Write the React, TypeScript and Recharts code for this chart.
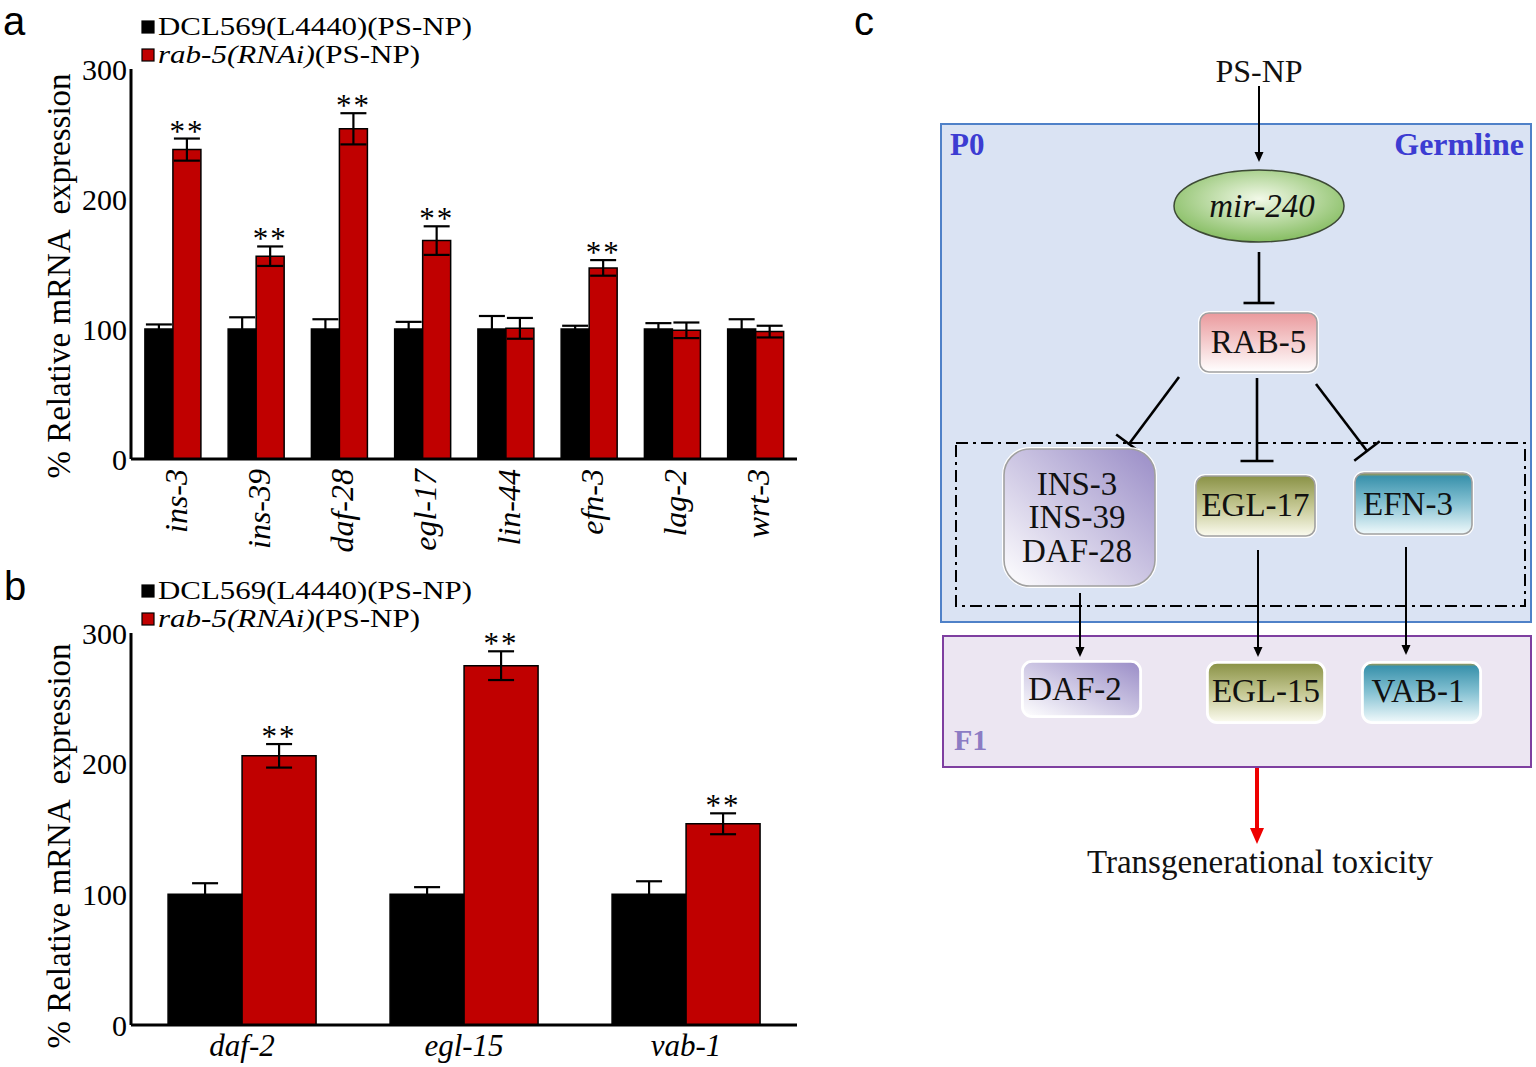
import React from 'react';
import { BarChart, Bar, XAxis, YAxis, ErrorBar, LabelList, Legend } from 'recharts';

const SERIF = '"Liberation Serif", "Times New Roman", Times, serif';
const SANS = '"Liberation Sans", Arial, Helvetica, sans-serif';
const RED = '#c00000';

// panel a
const genesA = ['ins-3', 'ins-39', 'daf-28', 'egl-17', 'lin-44', 'efn-3', 'lag-2', 'wrt-3'];
const ctrlA = [100, 100, 100, 100, 100, 100, 100, 100];
const ctrlErrA = [3.5, 9, 7.5, 5.5, 10, 2.5, 4.5, 7.5];
const rnaiA = [238, 156, 254, 168, 100.5, 147, 99, 98];
const rnaiErrA = [8.5, 7.5, 12, 11, 8, 6, 6, 4.5];
const sigA = [true, true, true, true, false, true, false, false];

// panel b
const genesB = ['daf-2', 'egl-15', 'vab-1'];
const ctrlB = [100, 100, 100];
const ctrlErrB = [8.5, 5.5, 10];
const rnaiB = [206, 275, 154];
const rnaiErrB = [9, 11, 8];
const sigB = [true, true, true];

const yTicks = [0, 100, 200, 300];
const seriesNames = ['DCL569(L4440)(PS-NP)', 'rab-5(RNAi)(PS-NP)'];
const legendItalic = ['', 'rab-5(RNAi)'];
const legendPlain = ['DCL569(L4440)(PS-NP)', '(PS-NP)'];
const legendWidths = [314, 262];
const yTitle = '% Relative mRNA  expression';

function makeRows(genes: string[], ctrl: number[], ctrlErr: number[], rnai: number[], rnaiErr: number[]) {
  return genes.map((gene, i) => ({
    gene,
    ctrl: ctrl[i],
    ctrlErr: ctrlErr[i],
    rnai: rnai[i],
    rnaiErr: rnaiErr[i],
  }));
}

const rowsA = makeRows(genesA, ctrlA, ctrlErrA, rnaiA, rnaiErrA);
const rowsB = makeRows(genesB, ctrlB, ctrlErrB, rnaiB, rnaiErrB);

function RotatedTick(props: any) {
  const { x, y, payload } = props;
  return (
    <text
      transform={`translate(${x + 14},${y + 10}) rotate(-90)`}
      textAnchor="end"
      fontFamily={SERIF}
      fontStyle="italic"
      fontSize={32}
      fill="#000"
    >
      {payload.value}
    </text>
  );
}

function FlatTick(props: any) {
  const { x, y, payload } = props;
  return (
    <text x={x} y={y + 31} textAnchor="middle" fontFamily={SERIF} fontStyle="italic" fontSize={31} fill="#000">
      {payload.value}
    </text>
  );
}

function YTick(props: any) {
  const { x, y, payload } = props;
  return (
    <text x={x} y={y} dy="0.35em" textAnchor="end" fontFamily={SERIF} fontSize={30} fill="#000">
      {payload.value}
    </text>
  );
}

function LegendBox(props: any) {
  const payload = props.payload || [];
  return (
    <svg width={480} height={72} style={{ display: 'block', overflow: 'visible' }}>
      {payload.map((p: any, i: number) => {
        const base = 35 + i * 28;
        return (
          <g key={i}>
            <rect x={142} y={base - 14} width={12} height={12} fill={p.color} stroke="#000" strokeWidth={1.2} />
            <text
              x={158}
              y={base}
              fontFamily={SERIF}
              fontSize={26}
              textLength={legendWidths[i]}
              lengthAdjust="spacingAndGlyphs"
              fill="#000"
            >
              {legendItalic[i] ? <tspan fontStyle="italic">{legendItalic[i]}</tspan> : null}
              <tspan>{legendPlain[i]}</tspan>
            </text>
          </g>
        );
      })}
    </svg>
  );
}

function makeStars(errs: number[], sig: boolean[]) {
  return (props: any) => {
    const vb = props.viewBox || {};
    const x = Number(props.x ?? vb.x);
    const y = Number(props.y ?? vb.y);
    const width = Number(props.width ?? vb.width);
    const height = Math.abs(Number(props.height ?? vb.height));
    const index = props.index;
    const value = Number(props.value);
    if (!sig[index] || !value) return null;
    const top = y - (errs[index] * height) / value;
    return (
      <text
        x={x + width / 2}
        y={top + 3}
        textAnchor="middle"
        fontFamily={SERIF}
        fontSize={31}
        letterSpacing={2}
        fill="#000"
      >
        **
      </text>
    );
  };
}

function ExprPanel({ rows, errs, sig, top, height, xAxisHeight, tick }: any) {
  return (
    <div style={{ position: 'absolute', left: 0, top, width: 820, height }}>
      <BarChart
        width={820}
        height={height}
        data={rows}
        margin={{ top: 69, right: 23, bottom: 6, left: 81 }}
        barCategoryGap="16.7%"
        barGap={0}
      >
        <XAxis
          dataKey="gene"
          interval={0}
          height={xAxisHeight}
          axisLine={{ stroke: '#000', strokeWidth: 3 }}
          tickLine={false}
          tickSize={0}
          tickMargin={0}
          tick={tick}
        />
        <YAxis
          domain={[0, 300]}
          ticks={yTicks}
          width={50}
          axisLine={{ stroke: '#000', strokeWidth: 3 }}
          tickLine={false}
          tickSize={4}
          tickMargin={0}
          tick={<YTick />}
        />
        <Legend
          layout="vertical"
          align="center"
          verticalAlign="middle"
          content={<LegendBox />}
          wrapperStyle={{ position: 'absolute', top: 0, left: 0, width: 480, height: 72 }}
        />
        <Bar dataKey="ctrl" name={seriesNames[0]} fill="#000" stroke="#000" strokeWidth={1.5} isAnimationActive={false}>
          <ErrorBar dataKey="ctrlErr" width={13} strokeWidth={2.2} stroke="#000" />
        </Bar>
        <Bar dataKey="rnai" name={seriesNames[1]} fill={RED} stroke="#000" strokeWidth={1.5} isAnimationActive={false}>
          <ErrorBar dataKey="rnaiErr" width={13} strokeWidth={2.2} stroke="#000" />
          <LabelList dataKey="rnai" content={makeStars(errs, sig)} />
        </Bar>
      </BarChart>
    </div>
  );
}

function Arrow({ x1, y1, x2, y2, color = '#000', w = 2, head = 10, half = 4.5 }: any) {
  const ang = Math.atan2(y2 - y1, x2 - x1);
  const bx = x2 - head * Math.cos(ang);
  const by = y2 - head * Math.sin(ang);
  const px = Math.sin(ang) * half;
  const py = -Math.cos(ang) * half;
  return (
    <g>
      <line x1={x1} y1={y1} x2={bx} y2={by} stroke={color} strokeWidth={w} />
      <polygon points={`${x2},${y2} ${bx + px},${by + py} ${bx - px},${by - py}`} fill={color} />
    </g>
  );
}

function Inhibit({ x1, y1, x2, y2, len = 32 }: any) {
  const ang = Math.atan2(y2 - y1, x2 - x1);
  const px = (Math.sin(ang) * len) / 2;
  const py = (-Math.cos(ang) * len) / 2;
  return (
    <g stroke="#000" strokeWidth={2.6}>
      <line x1={x1} y1={y1} x2={x2} y2={y2} />
      <line x1={x2 + px} y1={y2 + py} x2={x2 - px} y2={y2 - py} />
    </g>
  );
}

function NodeBox({ x, y, w, h, r = 9, fill, stroke, lines, baselines, cx }: any) {
  return (
    <g>
      <rect x={x} y={y} width={w} height={h} rx={r} ry={r} fill={fill} stroke="#fff" strokeWidth={4} />
      <rect x={x} y={y} width={w} height={h} rx={r} ry={r} fill={fill} stroke={stroke} strokeWidth={1.6} />
      {lines.map((t: string, i: number) => (
        <text key={t} x={cx ?? x + w / 2} y={baselines[i]} textAnchor="middle" fontFamily={SERIF} fontSize={33} fill="#111">
          {t}
        </text>
      ))}
    </g>
  );
}

function Overlay() {
  return (
    <svg
      width={1536}
      height={1067}
      style={{ position: 'absolute', left: 0, top: 0, pointerEvents: 'none' }}
    >
      <defs>
        <linearGradient id="gPink" x1="0" y1="0" x2="0" y2="1">
          <stop offset="0%" stopColor="#ea9a9d" />
          <stop offset="100%" stopColor="#ffffff" />
        </linearGradient>
        <linearGradient id="gOlive" x1="0" y1="0" x2="0" y2="1">
          <stop offset="0%" stopColor="#8a9246" />
          <stop offset="50%" stopColor="#c4c792" />
          <stop offset="100%" stopColor="#fbfbef" />
        </linearGradient>
        <linearGradient id="gTeal" x1="0" y1="0" x2="0" y2="1">
          <stop offset="0%" stopColor="#b89a3c" />
          <stop offset="6%" stopColor="#3a92ac" />
          <stop offset="50%" stopColor="#86c2d3" />
          <stop offset="100%" stopColor="#f0f9fb" />
        </linearGradient>
        <linearGradient id="gPurple" x1="1" y1="0" x2="0" y2="1">
          <stop offset="0%" stopColor="#9a8dc7" />
          <stop offset="100%" stopColor="#ffffff" />
        </linearGradient>
        <radialGradient id="gGreen" cx="50%" cy="40%" r="60%">
          <stop offset="0%" stopColor="#f2f9e8" />
          <stop offset="100%" stopColor="#86bd62" />
        </radialGradient>
      </defs>

      {/* panel letters */}
      <text x={3} y={35} fontFamily={SANS} fontSize={40} fill="#000">a</text>
      <text x={4} y={600} fontFamily={SANS} fontSize={40} fill="#000">b</text>
      <text x={854} y={35} fontFamily={SANS} fontSize={40} fill="#000">c</text>

      {/* y titles */}
      <text
        transform="translate(70,276) rotate(-90)"
        textAnchor="middle"
        fontFamily={SERIF}
        fontSize={33}
        style={{ whiteSpace: 'pre' }}
        fill="#000"
      >
        {yTitle}
      </text>
      <text
        transform="translate(70,846) rotate(-90)"
        textAnchor="middle"
        fontFamily={SERIF}
        fontSize={33}
        style={{ whiteSpace: 'pre' }}
        fill="#000"
      >
        {yTitle}
      </text>

      {/* diagram c */}
      <rect x={941} y={124} width={590} height={498} fill="#dae3f3" stroke="#4f81c8" strokeWidth={2} />
      <rect x={943} y={636} width={588} height={131} fill="#ece6f2" stroke="#7e3fa0" strokeWidth={2} />
      <rect x={956} y={443} width={569} height={163} fill="none" stroke="#000" strokeWidth={2} strokeDasharray="12 5 3 5" />

      <text x={950} y={155} fontFamily={SERIF} fontWeight="bold" fontSize={31} fill="#3c3cd2">P0</text>
      <text x={1524} y={155} textAnchor="end" fontFamily={SERIF} fontWeight="bold" fontSize={32} fill="#3c3cd2">Germline</text>
      <text x={954} y={750} fontFamily={SERIF} fontWeight="bold" fontSize={30} fill="#8c7cc4">F1</text>

      <text x={1259} y={82} textAnchor="middle" fontFamily={SERIF} fontSize={32} fill="#111">PS-NP</text>
      <Arrow x1={1259} y1={86} x2={1259} y2={162} />

      <ellipse cx={1259} cy={206} rx={85} ry={36} fill="url(#gGreen)" stroke="#3d4a35" strokeWidth={1.5} />
      <text x={1262} y={217} textAnchor="middle" fontFamily={SERIF} fontStyle="italic" fontSize={33} fill="#111">mir-240</text>

      <Inhibit x1={1259} y1={252} x2={1259} y2={303} len={31} />
      <NodeBox x={1200} y={313} w={117} h={59} fill="url(#gPink)" stroke="#a0a0a0" lines={['RAB-5']} baselines={[353]} />

      <Inhibit x1={1179} y1={377} x2={1129} y2={444} len={32} />
      <Inhibit x1={1257} y1={378} x2={1257} y2={461} len={33} />
      <Inhibit x1={1316} y1={384} x2={1367} y2={451} len={32} />

      <NodeBox x={1004} y={449} w={151} h={137} r={26} fill="url(#gPurple)" stroke="#a0a0a0" lines={['INS-3', 'INS-39', 'DAF-28']} baselines={[495, 528, 562]} cx={1077} />
      <NodeBox x={1196} y={476} w={119} h={60} fill="url(#gOlive)" stroke="#a0a0a0" lines={['EGL-17']} baselines={[516]} />
      <NodeBox x={1355} y={473} w={117} h={61} fill="url(#gTeal)" stroke="#a0a0a0" lines={['EFN-3']} baselines={[515]} cx={1408} />

      <Arrow x1={1080} y1={593} x2={1080} y2={657} />
      <Arrow x1={1258} y1={550} x2={1258} y2={657} />
      <Arrow x1={1406} y1={547} x2={1406} y2={655} />

      <NodeBox x={1023} y={662} w={117} h={54} fill="url(#gPurple)" stroke="#ffffff" lines={['DAF-2']} baselines={[700]} cx={1075} />
      <NodeBox x={1208} y={663} w={116} h={59} fill="url(#gOlive)" stroke="#ffffff" lines={['EGL-15']} baselines={[702]} />
      <NodeBox x={1363} y={663} w={117} h={59} fill="url(#gTeal)" stroke="#ffffff" lines={['VAB-1']} baselines={[702]} cx={1418} />

      <Arrow x1={1257} y1={768} x2={1257} y2={844} color="#ee0000" w={4} head={16} half={7} />
      <text x={1260} y={873} textAnchor="middle" fontFamily={SERIF} fontSize={33} fill="#111">Transgenerational toxicity</text>
    </svg>
  );
}

export default function App() {
  return (
    <div style={{ position: 'absolute', left: 0, top: 0, width: 1536, height: 1067, background: '#fff', overflow: 'hidden' }}>
      <ExprPanel rows={rowsA} errs={rnaiErrA} sig={sigA} top={0} height={565} xAxisHeight={100} tick={<RotatedTick />} />
      <ExprPanel rows={rowsB} errs={rnaiErrB} sig={sigB} top={564} height={503} xAxisHeight={36} tick={<FlatTick />} />
      <Overlay />
    </div>
  );
}
